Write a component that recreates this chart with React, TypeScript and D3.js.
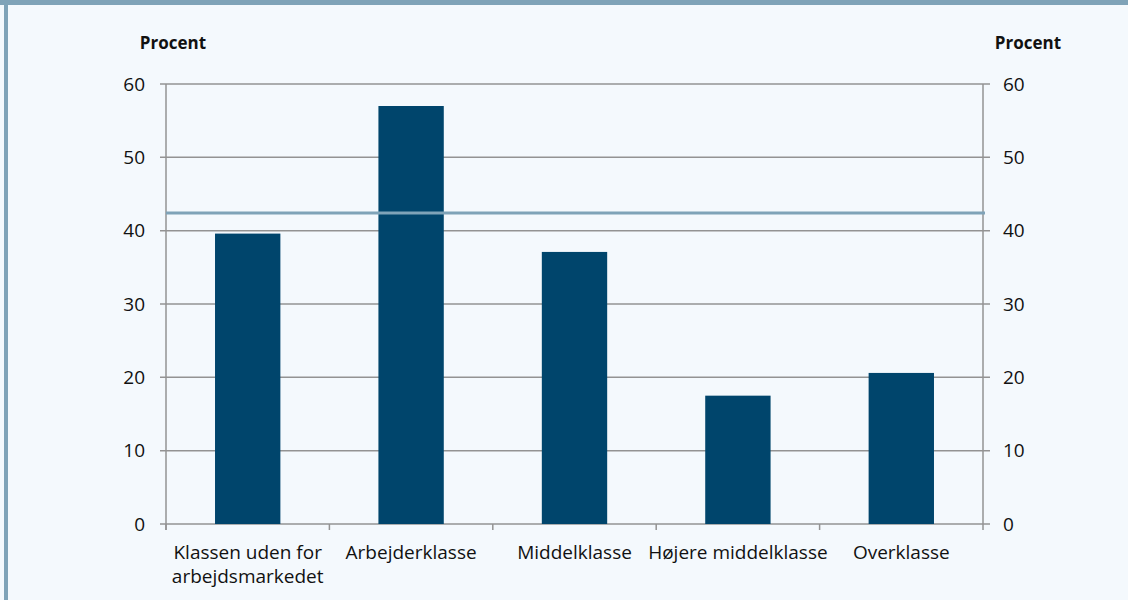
import * as d3 from "d3";

const categories = [
  ["Klassen uden for", "arbejdsmarkedet"],
  ["Arbejderklasse"],
  ["Middelklasse"],
  ["Højere middelklasse"],
  ["Overklasse"],
];
const values = [39.6, 57.0, 37.1, 17.5, 20.6];
const average = 42.4;
const yTicks = [0, 10, 20, 30, 40, 50, 60];

const W = 1128;
const H = 600;
const left = 166;
const right = 983;
const top = 84;
const bottom = 524;
const font = "'Open Sans', 'Noto Sans', sans-serif";
const grid = "#939393";

export default function App() {
  const x = d3.scaleBand<number>().domain(d3.range(categories.length)).range([left, right]).paddingInner(0).paddingOuter(0);
  const y = d3.scaleLinear().domain([0, 60]).range([bottom, top]);
  const bw = x.bandwidth() * 0.4;

  return (
    <div style={{ position: "fixed", left: 0, top: 0 }}>
      <svg width={W} height={H} style={{ display: "block" }}>
        <rect x={0} y={0} width={W} height={H} fill="#f4f9fd" />
        <rect x={0} y={0} width={W} height={5} fill="#7fa3b8" />
        <rect x={4} y={0} width={4} height={H} fill="#7fa3b8" />

        {yTicks.map((t) => (
          <g key={t}>
            <line x1={left - 6} x2={right + 7} y1={y(t)} y2={y(t)} stroke={grid} strokeWidth={1.5} />
            <text x={145} y={y(t)} dy="0.35em" textAnchor="end" fontSize={19} fontFamily={font} fill="#111">
              {t}
            </text>
            <text x={1003} y={y(t)} dy="0.35em" textAnchor="start" fontSize={19} fontFamily={font} fill="#111">
              {t}
            </text>
          </g>
        ))}

        <line x1={left} x2={left} y1={top} y2={bottom + 6} stroke={grid} strokeWidth={1.5} />
        <line x1={right} x2={right} y1={top} y2={bottom} stroke={grid} strokeWidth={1.5} />
        {d3.range(categories.length + 1).map((i) => {
          const xx = left + i * x.step();
          return <line key={i} x1={xx} x2={xx} y1={bottom} y2={bottom + 6} stroke={grid} strokeWidth={1.5} />;
        })}

        {values.map((v, i) => (
          <rect
            key={i}
            x={(x(i) as number) + (x.bandwidth() - bw) / 2}
            y={y(v)}
            width={bw}
            height={y(0) - y(v)}
            fill="#00456c"
          />
        ))}

        <line x1={left} x2={right + 2} y1={y(average)} y2={y(average)} stroke="#7fa3b8" strokeWidth={3} />

        {categories.map((lines, i) => (
          <text
            key={i}
            x={(x(i) as number) + x.bandwidth() / 2}
            y={559}
            textAnchor="middle"
            fontSize={19}
            fontFamily={font}
            fill="#111"
          >
            {lines.map((l, j) => (
              <tspan key={j} x={(x(i) as number) + x.bandwidth() / 2} dy={j === 0 ? 0 : 24}>
                {l}
              </tspan>
            ))}
          </text>
        ))}

        <text x={173} y={49} textAnchor="middle" fontSize={17} fontWeight="bold" fontFamily={font} fill="#111">
          Procent
        </text>
        <text x={1028} y={49} textAnchor="middle" fontSize={17} fontWeight="bold" fontFamily={font} fill="#111">
          Procent
        </text>
      </svg>
    </div>
  );
}
